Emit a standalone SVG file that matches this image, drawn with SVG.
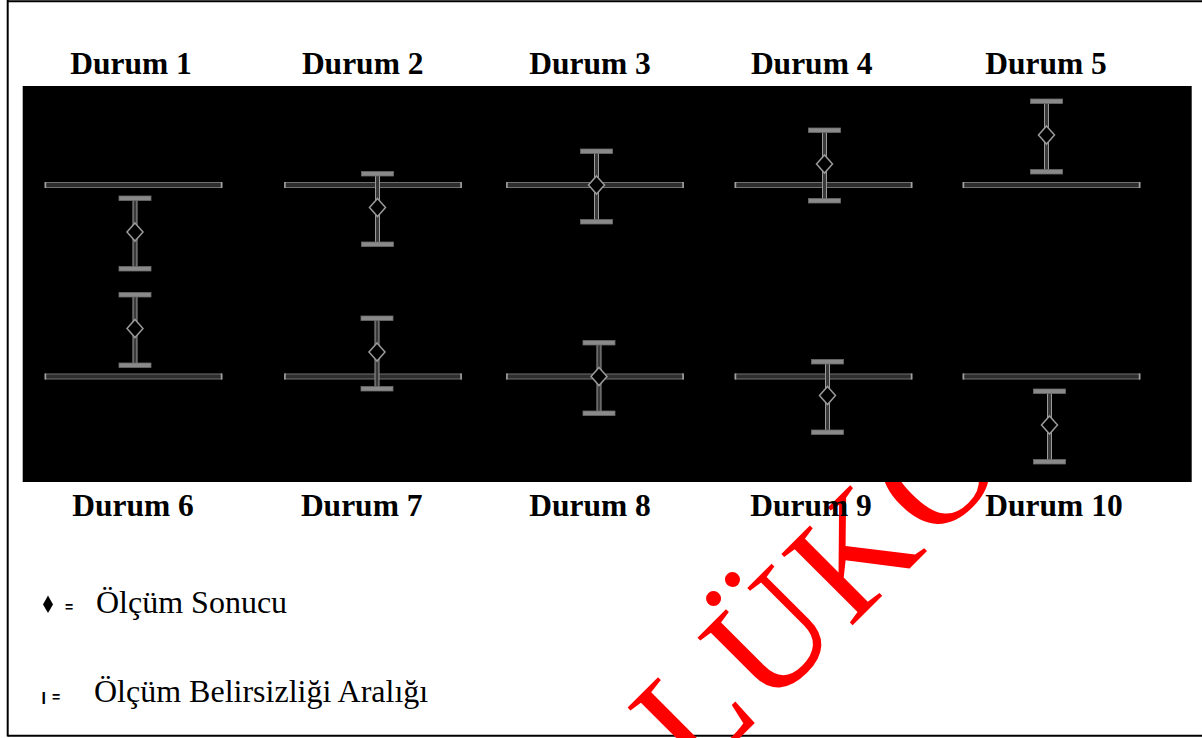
<svg xmlns="http://www.w3.org/2000/svg" width="1202" height="738" viewBox="0 0 1202 738">
<style>
.lbl{font-family:"Liberation Serif","Times New Roman",serif;font-weight:bold;font-size:31.5px;fill:#000;text-anchor:middle}
.leg{font-family:"Liberation Serif","Times New Roman",serif;font-size:32px;fill:#000}
.sym{font-family:"Liberation Sans",Arial,sans-serif;font-weight:bold;font-size:14px;fill:#000}
.wm{font-family:"Liberation Serif","Times New Roman",serif;font-size:154px;fill:#ff0000;letter-spacing:6px}
.ref{fill:#2e2e2e;stroke:#707070;stroke-width:1}
.tick{stroke:#a0a0a0;stroke-width:1.5}
.stem{fill:#3a3a3a;stroke:#9a9a9a;stroke-width:1}
.cap{fill:#8a8a8a;stroke:#6a6a6a;stroke-width:0.8}
.dia{fill:#000;stroke:#9a9a9a;stroke-width:1.5}
</style>
<defs>
<g id="bar">
<rect class="stem" x="-2" y="-34" width="4" height="71"/>
<rect class="cap" x="-16" y="-36" width="32" height="4.5"/>
<rect class="cap" x="-16" y="34.5" width="32" height="4.5"/>
<polygon class="dia" points="0,-9 8,0 0,9 -8,0"/>
</g>
<g id="refline">
<rect class="ref" x="0" y="-2.5" width="177" height="5"/>
<line class="tick" x1="0.5" y1="-3" x2="0.5" y2="3"/>
<line class="tick" x1="176.5" y1="-3" x2="176.5" y2="3"/>
</g>
</defs>
<rect x="0" y="0" width="1202" height="738" fill="#fff"/>
<g id="frame" fill="none" stroke="#000" stroke-width="2">
<line x1="7.7" y1="1.3" x2="1202" y2="1.3"/>
<line x1="7.7" y1="0" x2="7.7" y2="736.5"/>
<line x1="7.7" y1="735.8" x2="1202" y2="735.8"/>
</g>
<g id="watermark">
<text class="wm" transform="rotate(-45)" x="-61" y="1045">LÜKO</text>
</g>
<rect id="panel" x="22.7" y="86" width="1169" height="396" fill="#000"/>
<g id="connectors">
<use href="#refline" x="45" y="185"/>
<use href="#refline" x="284.5" y="185"/>
<use href="#refline" x="506.5" y="185"/>
<use href="#refline" x="735" y="185"/>
<use href="#refline" x="963" y="185"/>
<use href="#refline" x="45" y="376.5"/>
<use href="#refline" x="284.5" y="376.5"/>
<use href="#refline" x="506.5" y="376.5"/>
<use href="#refline" x="735" y="376.5"/>
<use href="#refline" x="963" y="376.5"/>
</g>
<g id="durum1"><use href="#bar" x="135" y="232"/><text class="lbl" x="131" y="74">Durum 1</text></g>
<g id="durum2"><use href="#bar" x="377.5" y="207.5"/><text class="lbl" x="362.7" y="74">Durum 2</text></g>
<g id="durum3"><use href="#bar" x="596.5" y="185"/><text class="lbl" x="590" y="74">Durum 3</text></g>
<g id="durum4"><use href="#bar" x="824.5" y="164"/><text class="lbl" x="811.7" y="74">Durum 4</text></g>
<g id="durum5"><use href="#bar" x="1046.5" y="135"/><text class="lbl" x="1046" y="74">Durum 5</text></g>
<g id="durum6"><use href="#bar" x="135" y="328.5"/><text class="lbl" x="133" y="516">Durum 6</text></g>
<g id="durum7"><use href="#bar" x="377" y="352"/><text class="lbl" x="361.7" y="516">Durum 7</text></g>
<g id="durum8"><use href="#bar" x="599" y="376.5"/><text class="lbl" x="590" y="516">Durum 8</text></g>
<g id="durum9"><use href="#bar" x="827.5" y="395.5"/><text class="lbl" x="811" y="516">Durum 9</text></g>
<g id="durum10"><use href="#bar" x="1049.5" y="425"/><text class="lbl" x="1054" y="516">Durum 10</text></g>
<g id="legend">
<polygon points="48,595.5 53,604.5 48,613 43,604.5" fill="#000"/>
<text class="sym" x="65" y="612">=</text>
<text class="leg" x="96" y="613.3">Ölçüm Sonucu</text>
<text class="sym" x="41.5" y="703.5" style="font-size:16px">I</text>
<text class="sym" x="52" y="702">=</text>
<text class="leg" x="94" y="701.7">Ölçüm Belirsizliği Aralığı</text>
</g>
</svg>
